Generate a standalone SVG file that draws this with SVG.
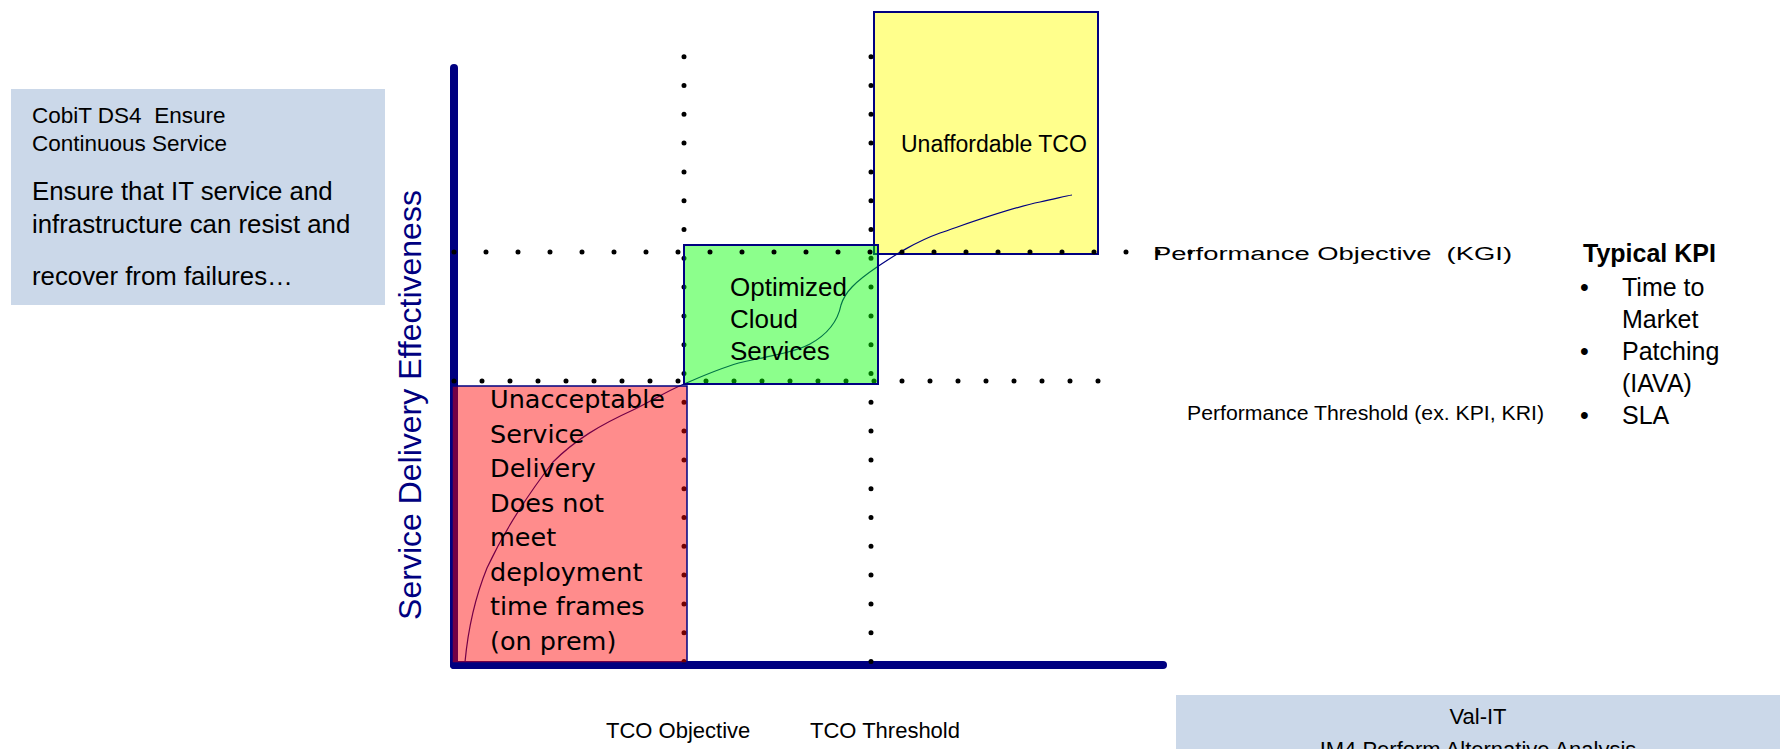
<svg xmlns="http://www.w3.org/2000/svg" width="1787" height="749" viewBox="0 0 1787 749">
  <style>
    .sans { font-family: "Liberation Sans", Arial, sans-serif; fill: #000; }
    .dv { font-family: "DejaVu Sans", Verdana, sans-serif; fill: #000; }
    .note { fill: #CBD8E9; }
    .dots { stroke: #000; stroke-width: 5; stroke-linecap: round; fill: none; }
    .axis { stroke: #000080; stroke-width: 8; stroke-linecap: round; fill: none; }
    .zone { stroke: #000080; stroke-width: 2; }
  </style>

  <rect width="1787" height="749" fill="#fff"/>

  <!-- left note: CobiT DS4 -->
  <g id="cobit-note">
    <rect class="note" x="11" y="89" width="374" height="216"/>
    <text class="sans" font-size="22.5" x="32" y="123" xml:space="preserve">CobiT DS4  Ensure</text>
    <text class="sans" font-size="22.5" x="32" y="151">Continuous Service</text>
    <text class="sans" font-size="25.8" x="32" y="200">Ensure that IT service and</text>
    <text class="sans" font-size="25.8" x="32" y="233">infrastructure can resist and</text>
    <text class="sans" font-size="25.8" x="32" y="285">recover from failures…</text>
  </g>

  <!-- unaffordable zone (opaque, under the grid) -->
  <g id="zone-unaffordable">
    <rect class="zone" x="874" y="12" width="224" height="242" fill="#FFFF8C"/>
  </g>

  <!-- axes -->
  <g id="axes">
    <line class="axis" x1="454" y1="68" x2="454" y2="665"/>
    <line class="axis" x1="454" y1="665" x2="1163" y2="665"/>
  </g>

  <!-- dotted grid lines -->
  <g id="grid">
    <line class="dots" x1="684" y1="56.7" x2="684" y2="663" stroke-dasharray="0 28.8"/>
    <line class="dots" x1="871" y1="56.7" x2="871" y2="663" stroke-dasharray="0 28.8"/>
    <line class="dots" x1="454" y1="381" x2="1100" y2="381" stroke-dasharray="0 28"/>
  </g>

  <!-- connectors: cost / effectiveness curve -->
  <g id="connectors">
    <path d="M465,662 C468,630 474,600 487,568 C500,540 520,505 553,462 C575,440 600,425 633,410 C650,402 665,392 684,384 C705,375 725,366 743,362 C770,356 795,352 810,344 C830,333 838,320 841,305 C845,292 855,282 877,267 C895,255 915,242 940,233 C975,221 1010,208 1040,202 C1055,199 1065,196 1072,195" fill="none" stroke="#000080" stroke-width="1.2"/>
  </g>

  <!-- unacceptable zone -->
  <g id="zone-unacceptable">
    <rect x="452" y="386" width="235" height="277" fill="#FF0000" fill-opacity="0.45" stroke="#000080" stroke-width="1.5"/>
    <text class="dv" font-size="25.5" x="490" y="408">Unacceptable</text>
    <text class="dv" font-size="25.5" x="490" y="442.5">Service</text>
    <text class="dv" font-size="25.5" x="490" y="477">Delivery</text>
    <text class="dv" font-size="25.5" x="490" y="511.5">Does not</text>
    <text class="dv" font-size="25.5" x="490" y="546">meet</text>
    <text class="dv" font-size="25.5" x="490" y="580.5">deployment</text>
    <text class="dv" font-size="25.5" x="490" y="615">time frames</text>
    <text class="dv" font-size="25.5" x="490" y="649.5">(on prem)</text>
  </g>

  <!-- optimized zone -->
  <g id="zone-optimized">
    <rect class="zone" x="684" y="245" width="194" height="139" fill="#00FF00" fill-opacity="0.45"/>
    <text class="sans" font-size="26" x="730" y="296">Optimized</text>
    <text class="sans" font-size="26" x="730" y="328">Cloud</text>
    <text class="sans" font-size="26" x="730" y="360">Services</text>
  </g>

  <!-- performance objective dotted line, on top -->
  <g id="grid-objective">
    <line class="dots" x1="454" y1="252" x2="1192" y2="252" stroke-dasharray="0 32"/>
  </g>

  <g id="label-unaffordable">
    <text class="sans" font-size="23" x="901" y="152">Unaffordable TCO</text>
  </g>

  <!-- axis title -->
  <g id="y-axis-title">
    <text class="sans" font-size="32" style="fill:#000080" text-anchor="middle" transform="translate(421,405) rotate(-90)">Service Delivery Effectiveness</text>
  </g>

  <!-- threshold labels -->
  <g id="label-objective">
    <text class="sans" font-size="18" x="1153" y="260" textLength="359" lengthAdjust="spacingAndGlyphs" xml:space="preserve">Performance Objective  (KGI)</text>
  </g>
  <g id="label-threshold">
    <text class="sans" font-size="20" x="1187" y="420" textLength="357" lengthAdjust="spacingAndGlyphs">Performance Threshold (ex. KPI, KRI)</text>
  </g>
  <g id="label-tco-objective">
    <text class="sans" font-size="22" x="606" y="738">TCO Objective</text>
  </g>
  <g id="label-tco-threshold">
    <text class="sans" font-size="22" x="810" y="738">TCO Threshold</text>
  </g>

  <!-- KPI list -->
  <g id="kpi-list">
    <text class="sans" font-size="25" font-weight="bold" x="1583" y="262">Typical KPI</text>
    <text class="sans" font-size="25" x="1580" y="296">•</text>
    <text class="sans" font-size="25" x="1622" y="296">Time to</text>
    <text class="sans" font-size="25" x="1622" y="328">Market</text>
    <text class="sans" font-size="25" x="1580" y="360">•</text>
    <text class="sans" font-size="25" x="1622" y="360">Patching</text>
    <text class="sans" font-size="25" x="1622" y="392">(IAVA)</text>
    <text class="sans" font-size="25" x="1580" y="424">•</text>
    <text class="sans" font-size="25" x="1622" y="424">SLA</text>
  </g>

  <!-- Val-IT note -->
  <g id="valit-note">
    <rect class="note" x="1176" y="695" width="604" height="60"/>
    <text class="sans" font-size="22" text-anchor="middle" x="1478" y="724">Val-IT</text>
    <text class="sans" font-size="22" text-anchor="middle" x="1478" y="757">IM4 Perform Alternative Analysis</text>
  </g>
</svg>
